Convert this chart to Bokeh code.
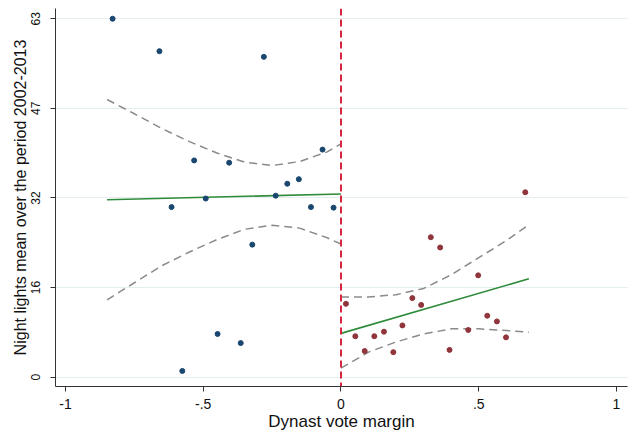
from bokeh.plotting import figure
from bokeh.models import Range1d, FixedTicker, Span
from bokeh.embed import file_html
from bokeh.resources import INLINE

# ---- data ----
left_x = [-0.829, -0.659, -0.280, -0.533, -0.406, -0.067, -0.195, -0.153, -0.237,
          -0.491, -0.615, -0.109, -0.027, -0.322, -0.448, -0.364, -0.576]
left_y = [63.0, 57.3, 56.3, 38.1, 37.7, 40.0, 34.0, 34.8, 31.9,
          31.4, 29.9, 29.9, 29.8, 23.3, 7.6, 6.0, 1.1]

right_x = [0.669, 0.326, 0.360, 0.498, 0.018, 0.259, 0.291, 0.531, 0.566,
           0.223, 0.462, 0.052, 0.121, 0.156, 0.599, 0.086, 0.190, 0.394]
right_y = [32.5, 24.6, 22.8, 17.9, 12.9, 13.9, 12.7, 10.8, 9.8,
           9.1, 8.3, 7.2, 7.2, 8.0, 7.0, 4.6, 4.4, 4.8]

left_fit_x = [-0.849, 0.0]
left_fit_y = [31.2, 32.2]
right_fit_x = [0.0, 0.682]
right_fit_y = [7.7, 17.3]

left_ci_x = [-0.849, -0.75, -0.65, -0.55, -0.45, -0.35, -0.25, -0.15, -0.05, 0.0]
left_ci_hi = [48.8, 46.3, 43.7, 41.4, 39.4, 37.8, 37.2, 37.9, 39.6, 41.0]
left_ci_lo = [13.6, 16.6, 19.6, 22.0, 24.2, 26.0, 26.7, 26.2, 24.5, 23.4]

right_ci_x = [0.0, 0.1, 0.2, 0.3, 0.4, 0.5, 0.6, 0.682]
right_ci_hi = [14.1, 14.1, 14.5, 15.6, 18.0, 21.0, 24.0, 26.8]
right_ci_lo = [1.6, 4.4, 6.2, 7.6, 8.5, 8.5, 8.2, 7.9]

cutoff = 0.0

x_ticks = [-1.0, -0.5, 0.0, 0.5, 1.0]
x_tick_labels = ["-1", "-.5", "0", ".5", "1"]
y_ticks = [0.0, 15.75, 31.5, 47.25, 63.0]
y_tick_labels = ["0", "16", "32", "47", "63"]

FONT = "Liberation Sans"
BLUE = "#1a476f"
RED = "#90353b"
GREEN = "#2e8b3a"
GREY = "#8a8a8a"

p = figure(width=632, height=434, output_backend="svg", toolbar_location=None,
           x_range=Range1d(-1.0363, 1.04), y_range=Range1d(-1.635, 64.8),
           min_border_left=55, min_border_right=5, min_border_top=8,
           min_border_bottom=48)
p.outline_line_color = None
p.background_fill_color = "white"
p.border_fill_color = "white"

# axes
p.xaxis.ticker = FixedTicker(ticks=x_ticks)
p.xaxis.major_label_overrides = dict(zip(x_ticks, x_tick_labels))
p.yaxis.ticker = FixedTicker(ticks=y_ticks)
p.yaxis.major_label_overrides = dict(zip(y_ticks, y_tick_labels))
p.yaxis.major_label_orientation = "vertical"

for ax in (p.xaxis[0], p.yaxis[0]):
    ax.axis_line_color = "#333333"
    ax.axis_line_width = 1
    ax.major_tick_line_color = "#333333"
    ax.major_tick_out = 5
    ax.major_tick_in = 0
    ax.minor_tick_line_color = None
    ax.major_label_text_font = FONT
    ax.major_label_text_color = "#111111"
    ax.axis_label_text_font = FONT
    ax.axis_label_text_font_style = "normal"
    ax.axis_label_text_color = "#111111"

p.xaxis.major_label_text_font_size = "14px"
p.yaxis.major_label_text_font_size = "12px"
p.xaxis.axis_label_text_font_size = "17px"
p.yaxis.axis_label_text_font_size = "16px"
p.xaxis.major_label_standoff = 7
p.yaxis.major_label_standoff = 10
p.xaxis.axis_label_standoff = 0
p.yaxis.axis_label_standoff = 0
p.xaxis.axis_label = "Dynast vote margin"
p.yaxis.axis_label = "Night lights mean over the period 2002-2013"

p.xgrid.visible = False
p.ygrid.ticker = FixedTicker(ticks=y_ticks)
p.ygrid.grid_line_color = "#e4eef0"
p.ygrid.grid_line_width = 1

# confidence bands
for xs, ys in ((left_ci_x, left_ci_hi), (left_ci_x, left_ci_lo),
               (right_ci_x, right_ci_hi), (right_ci_x, right_ci_lo)):
    p.line(xs, ys, line_color=GREY, line_width=1.5, line_dash="8 5")

# fitted lines
p.line(left_fit_x, left_fit_y, line_color=GREEN, line_width=1.6)
p.line(right_fit_x, right_fit_y, line_color=GREEN, line_width=1.6)

# points
p.scatter(left_x, left_y, marker="circle", size=5, fill_color=BLUE, line_color=BLUE)
p.scatter(right_x, right_y, marker="circle", size=5, fill_color=RED, line_color=RED)

# cutoff line
p.add_layout(Span(location=cutoff, dimension="height", line_color="#d7263d",
                  line_width=2, line_dash="7 4"))

open("out.html", "w").write(file_html(p, INLINE))
